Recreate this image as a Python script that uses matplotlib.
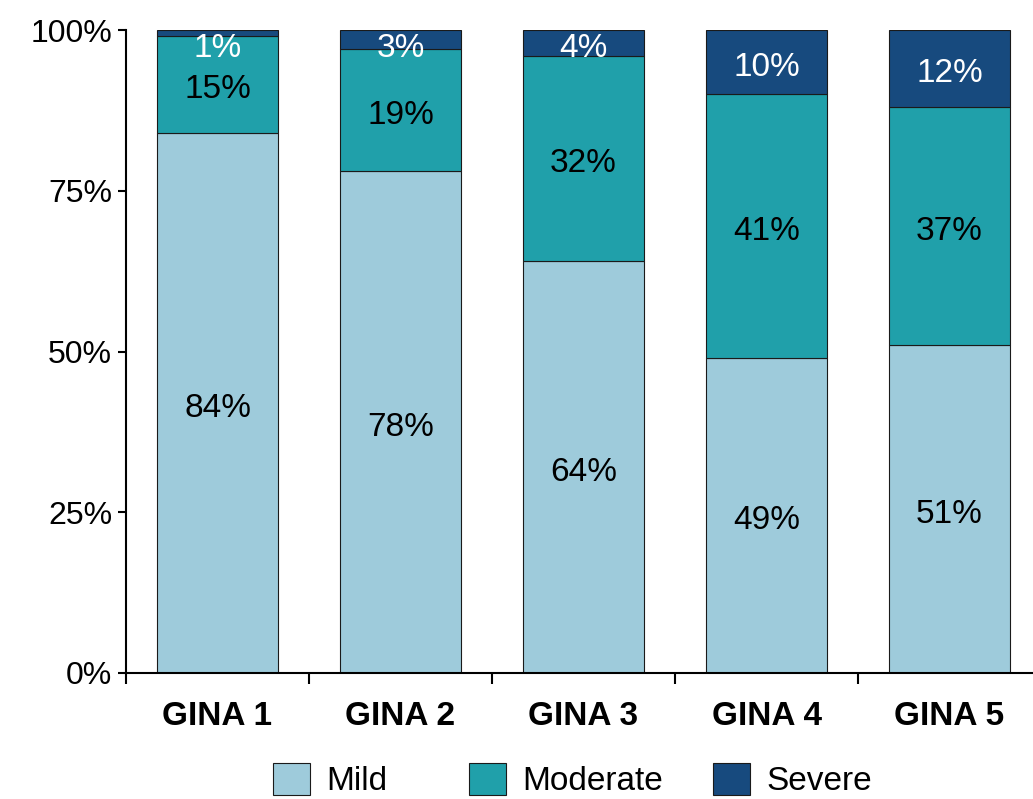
import numpy as np
import matplotlib
matplotlib.use("Agg")
from matplotlib import pyplot as plt

plt.rcParams['font.family'] = ['Liberation Sans', 'DejaVu Sans']

# asthma severity share per GINA step (percent)
groups = ["GINA 1", "GINA 2", "GINA 3", "GINA 4", "GINA 5"]
mild = [84, 78, 64, 49, 51]
moderate = [15, 19, 32, 41, 37]
severe = [1, 3, 4, 10, 12]

series = [("Mild", mild, "#9ECBDB", "black"),
          ("Moderate", moderate, "#20A0AA", "black"),
          ("Severe", severe, "#174A7E", "white")]

fig = plt.figure(figsize=(10.33, 7.99), dpi=100)
ax = fig.add_axes([126/1033, 126/799, 1 - 126/1033, 643/799])

x = np.arange(len(groups))
bottom = np.zeros(len(groups))
bars = []
for name, vals, col, txtcol in series:
    vals = np.array(vals, dtype=float)
    b = ax.bar(x, vals, 0.66, bottom=bottom, color=col, edgecolor="#1a1a1a",
               linewidth=0.8, label=name)
    bars.append(b)
    for xi, b0, v in zip(x, bottom, vals):
        # keep small top labels inside the frame
        yc = min(b0 + v / 2, 98)
        ax.text(xi, yc - 0.8, f"{int(v)}%", ha="center", va="center",
                fontsize=24, color=txtcol)
    bottom += vals

ax.set_ylim(0, 100)
ax.set_xlim(-0.5, (1033 - 126) / 183 - 0.5)
ax.set_yticks([0, 25, 50, 75, 100])
ax.set_yticklabels(["0%", "25%", "50%", "75%", "100%"], fontsize=23)

# ticks sit between the bars, labels at the bar centres
ax.set_xticks(np.arange(len(groups)) - 0.5)
ax.set_xticklabels([])
ax.set_xticks(x, minor=True)
ax.set_xticklabels(groups, minor=True, fontsize=24, fontweight="bold")
ax.tick_params(axis="x", which="minor", length=0, pad=20)
ax.tick_params(axis="x", which="major", length=8, width=1.5, direction="out")
ax.tick_params(axis="y", length=6, width=1.5, direction="out", pad=4)

for s in ["top", "right"]:
    ax.spines[s].set_visible(False)
ax.spines["left"].set_linewidth(1.5)
ax.spines["bottom"].set_linewidth(1.5)

# one legend entry per key so each can sit at its own spot
key_x = [273, 469, 713]
for b, (name, _, _, _), kx in zip(bars, series, key_x):
    fig.legend([b], [name], loc="upper left", bbox_to_anchor=(kx / 1033, 0.045),
               frameon=False, fontsize=24, handlelength=1.11, handleheight=1.11,
               handletextpad=0.48, borderpad=0, borderaxespad=0)

fig.savefig("out.png", dpi=100)
